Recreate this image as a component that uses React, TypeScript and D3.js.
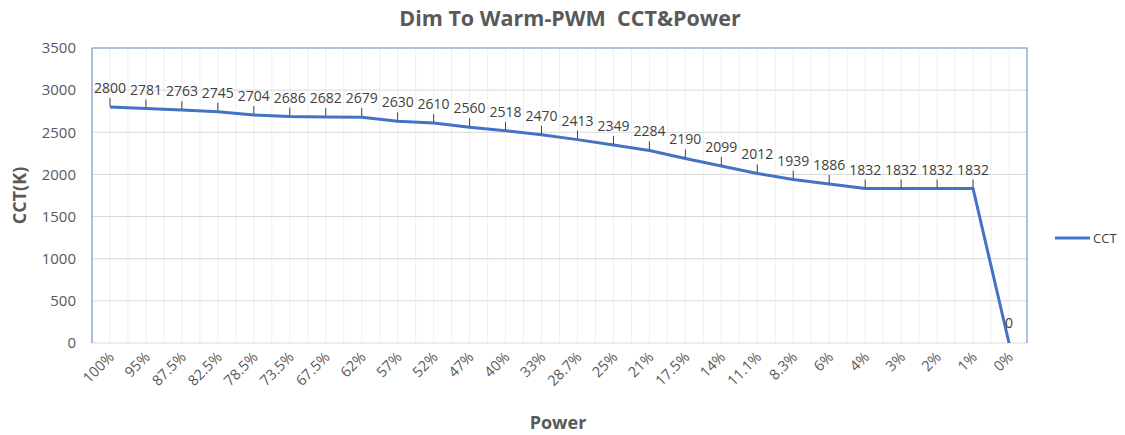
import React, { useEffect, useRef } from "react";
import * as d3 from "d3";

const powerLabels = [
  "100%", "95%", "87.5%", "82.5%", "78.5%", "73.5%", "67.5%", "62%", "57%", "52%",
  "47%", "40%", "33%", "28.7%", "25%", "21%", "17.5%", "14%", "11.1%", "8.3%",
  "6%", "4%", "3%", "2%", "1%", "0%",
];
const cctValues = [
  2800, 2781, 2763, 2745, 2704, 2686, 2682, 2679, 2630, 2610,
  2560, 2518, 2470, 2413, 2349, 2284, 2190, 2099, 2012, 1939,
  1886, 1832, 1832, 1832, 1832, 0,
];
const yTicks = [0, 500, 1000, 1500, 2000, 2500, 3000, 3500];

const FONT = "'Open Sans', 'Noto Sans', sans-serif";

export default function App() {
  const ref = useRef<SVGSVGElement>(null);

  useEffect(() => {
    const width = 1125,
      height = 435;
    const margin = { top: 48, right: 98, bottom: 92, left: 92 };
    const svg = d3.select(ref.current);
    svg.selectAll("*").remove();

    const x = d3
      .scaleBand()
      .domain(powerLabels)
      .range([margin.left, width - margin.right]);
    const y = d3
      .scaleLinear()
      .domain([0, 3500])
      .range([height - margin.bottom, margin.top]);
    const cx = (d: string) => (x(d) as number) + x.bandwidth() / 2;

    // vertical gridlines: band edges and centers
    const vLines: number[] = [];
    powerLabels.forEach((d) => {
      vLines.push(x(d) as number);
      vLines.push(cx(d));
    });
    svg
      .append("g")
      .selectAll("line")
      .data(vLines)
      .enter()
      .append("line")
      .attr("x1", (d) => d)
      .attr("x2", (d) => d)
      .attr("y1", y(3500))
      .attr("y2", y(0))
      .attr("stroke", "#efefef")
      .attr("stroke-width", 1);

    // horizontal gridlines
    svg
      .append("g")
      .selectAll("line")
      .data(yTicks)
      .enter()
      .append("line")
      .attr("x1", margin.left)
      .attr("x2", width - margin.right)
      .attr("y1", (d) => y(d))
      .attr("y2", (d) => y(d))
      .attr("stroke", "#d9d9d9")
      .attr("stroke-width", 1);

    // plot border (top, left, right)
    svg
      .append("path")
      .attr(
        "d",
        `M${margin.left},${y(0)}V${y(3500)}H${width - margin.right}V${y(0)}`
      )
      .attr("fill", "none")
      .attr("stroke", "#7a97d6")
      .attr("stroke-width", 1.2);

    // y tick labels
    svg
      .append("g")
      .selectAll("text")
      .data(yTicks)
      .enter()
      .append("text")
      .attr("x", 76)
      .attr("y", (d) => y(d))
      .attr("dy", "0.35em")
      .attr("text-anchor", "end")
      .attr("font-family", FONT)
      .attr("font-size", 15)
      .attr("fill", "#595959")
      .text((d) => d);

    // x tick labels
    svg
      .append("g")
      .selectAll("text")
      .data(powerLabels)
      .enter()
      .append("text")
      .attr(
        "transform",
        (d) => `translate(${cx(d) + 5},${y(0) + 15}) rotate(-45)`
      )
      .attr("text-anchor", "end")
      .attr("font-family", FONT)
      .attr("font-size", 14.5)
      .attr("fill", "#595959")
      .text((d) => d);

    // line
    const line = d3
      .line<number>()
      .x((d, i) => cx(powerLabels[i]))
      .y((d) => y(d));
    svg
      .append("path")
      .datum(cctValues)
      .attr("d", line)
      .attr("fill", "none")
      .attr("stroke", "#4472c4")
      .attr("stroke-width", 3)
      .attr("stroke-linejoin", "round");

    // data labels with leader lines
    const lbl = svg.append("g");
    cctValues.forEach((v, i) => {
      const px = cx(powerLabels[i]);
      const py = y(v);
      if (v === 0) {
        lbl
          .append("text")
          .attr("x", px - 4)
          .attr("y", py - 15)
          .attr("font-family", FONT)
          .attr("font-size", 14)
          .attr("fill", "#404040")
          .text(v);
        return;
      }
      lbl
        .append("line")
        .attr("x1", px)
        .attr("x2", px)
        .attr("y1", py - 1)
        .attr("y2", py - 9)
        .attr("stroke", "#404040")
        .attr("stroke-width", 1);
      lbl
        .append("text")
        .attr("x", px)
        .attr("y", py - 14)
        .attr("text-anchor", "middle")
        .attr("font-family", FONT)
        .attr("font-size", 14)
        .attr("fill", "#404040")
        .text(v);
    });

    // titles
    svg
      .append("text")
      .attr("x", 570)
      .attr("y", 26)
      .attr("text-anchor", "middle")
      .attr("font-family", FONT)
      .attr("font-weight", "bold")
      .attr("font-size", 21.5)
      .attr("fill", "#595959")
      .attr("xml:space", "preserve")
      .text("Dim To Warm-PWM  CCT&Power");
    svg
      .append("text")
      .attr("transform", `translate(26,${(y(0) + y(3500)) / 2}) rotate(-90)`)
      .attr("text-anchor", "middle")
      .attr("font-family", FONT)
      .attr("font-weight", "bold")
      .attr("font-size", 18)
      .attr("fill", "#595959")
      .text("CCT(K)");
    svg
      .append("text")
      .attr("x", 558)
      .attr("y", 429)
      .attr("text-anchor", "middle")
      .attr("font-family", FONT)
      .attr("font-weight", "bold")
      .attr("font-size", 18)
      .attr("fill", "#595959")
      .text("Power");

    // legend
    svg
      .append("line")
      .attr("x1", 1055)
      .attr("x2", 1090)
      .attr("y1", 238)
      .attr("y2", 238)
      .attr("stroke", "#4472c4")
      .attr("stroke-width", 3);
    svg
      .append("text")
      .attr("x", 1093)
      .attr("y", 238)
      .attr("dy", "0.35em")
      .attr("font-family", FONT)
      .attr("font-size", 13)
      .attr("fill", "#404040")
      .text("CCT");
  }, []);

  return (
    <svg
      ref={ref}
      width={1125}
      height={435}
      style={{ position: "absolute", left: 0, top: 0, background: "#fff" }}
    />
  );
}
